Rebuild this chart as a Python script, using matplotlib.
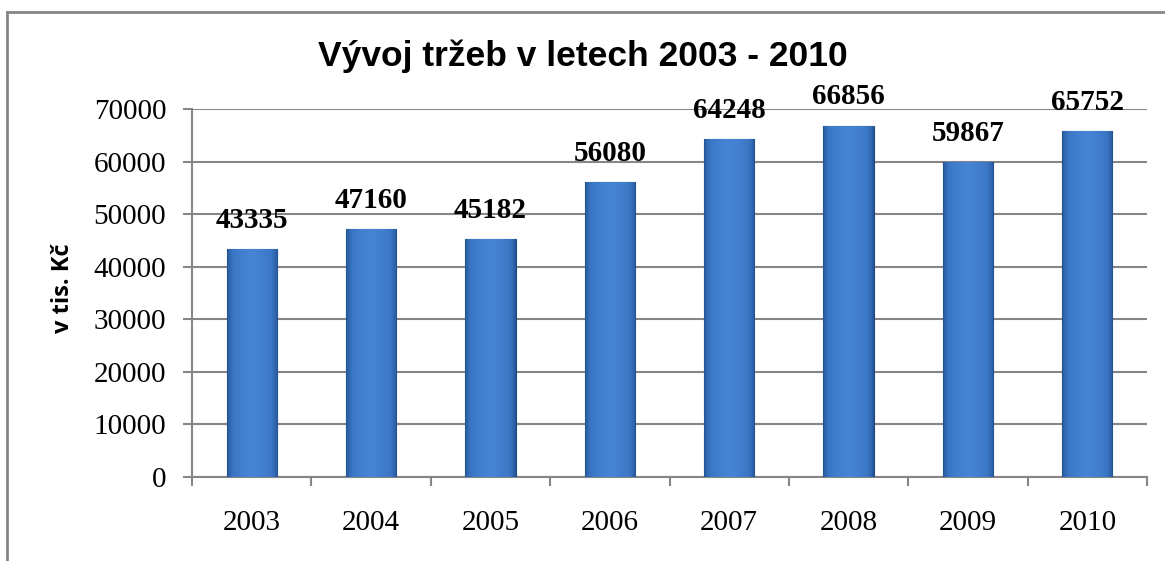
import numpy as np
import matplotlib.pyplot as plt
from matplotlib.colors import LinearSegmentedColormap
from matplotlib.lines import Line2D

years = ["2003", "2004", "2005", "2006", "2007", "2008", "2009", "2010"]
trzby = [43335, 47160, 45182, 56080, 64248, 66856, 59867, 65752]

fig = plt.figure(figsize=(11.65, 5.61), dpi=100)
ax = fig.add_axes([192 / 1165, 1 - 477 / 561, 955 / 1165, 368 / 561])

x = np.arange(len(years))
bars = ax.bar(x, trzby, width=0.42, color="#3A74BE", edgecolor="#1F4A80",
              linewidth=0.8, zorder=3)

# horizontal gradient, dark edges / light centre
cmap = LinearSegmentedColormap.from_list("bar", ["#214F8E", "#3A76C4", "#4785D4"])
grad = 1 - np.abs(np.linspace(-1, 1, 80))
grad = np.sqrt(grad)[None, :]
for b in bars:
    x0, w, h = b.get_x(), b.get_width(), b.get_height()
    im = ax.imshow(grad, extent=[x0, x0 + w, 0, h], aspect="auto", cmap=cmap,
                   zorder=3.5, interpolation="bicubic")
    im.set_clip_path(b)

for xi, v in zip(x, trzby):
    ax.annotate(str(v), (xi, v), xytext=(0, 11), textcoords="offset points",
                ha="center", va="bottom", fontsize=21, fontweight="bold",
                family="Liberation Serif", zorder=5)

ax.set_xlim(-0.5, len(years) - 0.5)
ax.set_ylim(0, 70000)
ax.set_yticks(np.arange(0, 70001, 10000))
ax.set_yticklabels([str(v) for v in range(0, 70001, 10000)],
                   family="Liberation Serif", fontsize=21)
ax.set_xticks(x)
ax.set_xticklabels(years, family="Liberation Serif", fontsize=21)
ax.set_xticks(np.arange(-0.5, len(years), 1), minor=True)
ax.tick_params(axis="x", which="major", length=0, pad=24)
ax.tick_params(axis="x", which="minor", length=6.5, width=1.5, color="#868686",
               direction="out")
ax.tick_params(axis="y", length=6.5, width=1.5, color="#868686", pad=12)

ax.grid(axis="y", color="#868686", linewidth=1.5, zorder=0)
ax.set_axisbelow(True)
for s in ["top", "right"]:
    ax.spines[s].set_visible(False)
for s in ["left", "bottom"]:
    ax.spines[s].set_color("#868686")
    ax.spines[s].set_linewidth(1.5)

ax.set_ylabel("v tis. Kč", family="Open Sans", fontweight="bold", fontsize=17)
ax.yaxis.label.set_va("center")
ax.yaxis.set_label_coords((63 - 192) / 955, (477 - 288) / 368)

fig.text(0.5, 1 - 66 / 561, "Vývoj tržeb v letech 2003 - 2010", ha="center",
         va="baseline", fontsize=25.5, fontweight="bold", family="Liberation Sans")

# outer frame (left + top visible)
fig.add_artist(Line2D([7 / 1165, 7 / 1165], [0, 1 - 12 / 561],
                      transform=fig.transFigure, color="#868686", lw=2))
fig.add_artist(Line2D([7 / 1165, 1], [1 - 12 / 561, 1 - 12 / 561],
                      transform=fig.transFigure, color="#868686", lw=2))

fig.savefig("out.png", dpi=100)
